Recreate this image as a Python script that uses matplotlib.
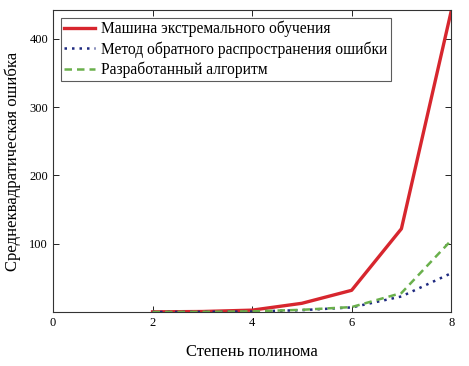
import numpy as np
import matplotlib.pyplot as plt

plt.rcParams['font.family'] = ['Liberation Serif', 'DejaVu Serif']

# Данные
degree = [2, 3, 4, 5, 6, 7, 8]
elm = [0.5, 1.0, 3.0, 13.0, 32.0, 122.0, 440.0]
backprop = [0.3, 0.5, 1.0, 3.0, 7.0, 23.0, 57.0]
developed = [0.3, 0.5, 1.2, 3.5, 7.5, 28.0, 105.0]

fig = plt.figure(figsize=(4.69, 3.66), dpi=100)
ax = fig.add_axes([0.113, 0.147, 0.849, 0.826])

ax.plot(degree, elm, color='#d7262e', lw=2.4, label='Машина экстремального обучения')
ax.plot(degree, backprop, color='#1f2a80', lw=1.8, ls=(0, (1, 2)),
        label='Метод обратного распространения ошибки')
ax.plot(degree, developed, color='#6ab04c', lw=1.8, ls=(0, (3, 2)),
        label='Разработанный алгоритм')

ax.set_xlim(0, 8)
ax.set_ylim(0, 442)
ax.set_xticks([0, 2, 4, 6, 8])
ax.set_yticks([100, 200, 300, 400])
ax.tick_params(direction='in', top=True, right=True, labelsize=9, length=4, width=0.6)
for s in ax.spines.values():
    s.set_linewidth(0.8)
    s.set_color('#333333')

ax.set_xlabel('Степень полинома', fontsize=12, labelpad=11)
ax.set_ylabel('Среднеквадратическая ошибка', fontsize=12, labelpad=6)

leg = ax.legend(loc='upper left', fontsize=11.2, frameon=True, fancybox=False,
                handlelength=2.0, handletextpad=0.4, borderpad=0.2,
                labelspacing=0.25, borderaxespad=0.5)
leg.get_frame().set_edgecolor('#333333')
leg.get_frame().set_linewidth(0.8)

fig.savefig('out.png', dpi=100)
